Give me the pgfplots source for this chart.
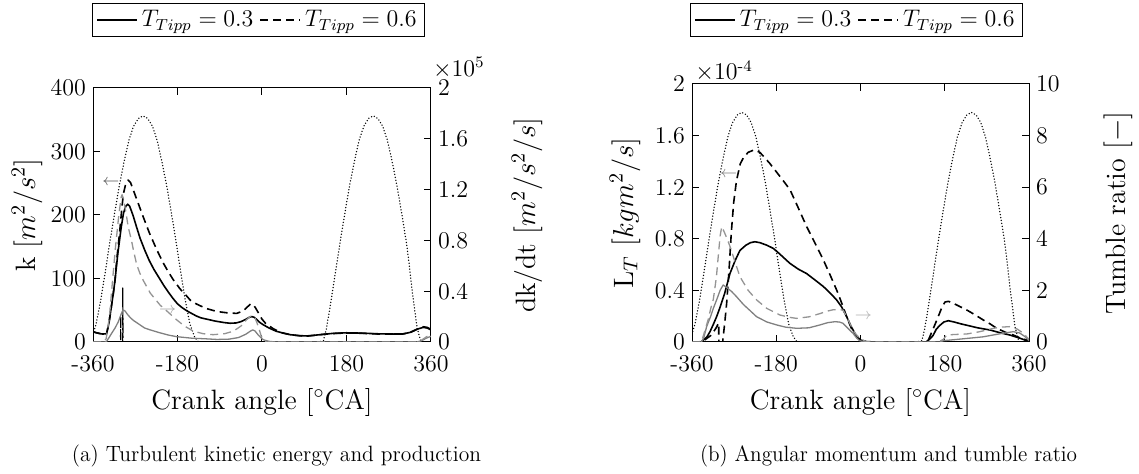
\documentclass[border=0pt]{standalone}
\usepackage{amsmath}
\usepackage{pgfplots}
\pgfplotsset{compat=1.18}
\definecolor{gsolid}{gray}{0.5}
\definecolor{gdash}{gray}{0.58}
\pgfplotsset{
 base/.style={scale only axis, xmin=-360, xmax=360, tick align=inside, major tick length=3.5pt,
   clip mode=individual,
   axis line style={line width=0.5pt}, every tick/.style={black, line width=0.5pt},
   tick label style={font=\fontsize{12}{14}\selectfont},
   label style={font=\fontsize{14}{16}\selectfont},
   xtick={-360,-180,0,180,360}, xticklabels={-360,-180,0,180,360},
   xticklabel style={yshift=-3pt},
   every axis plot/.append style={line join=round}},
 ksol/.style={black, line width=0.8pt},
 kdash/.style={black, line width=0.8pt, dash pattern=on 4pt off 2.5pt},
 gsol/.style={gsolid, line width=0.65pt},
 gdsh/.style={gdash, line width=0.65pt, dash pattern=on 4pt off 2.5pt},
 lift/.style={black, line width=0.75pt, line cap=round, dash pattern=on 0pt off 1.5pt},
 myleg/.style={legend columns=2, legend cell align=left,
   legend style={draw=black, line width=0.5pt, font=\fontsize{12}{14}\selectfont, inner xsep=2pt, inner ysep=1.5pt,
     /tikz/every even column/.append style={column sep=1pt}},
   legend image code/.code={\draw[##1] (0pt,0pt) -- (20pt,0pt);}},
}
\begin{document}
\begin{tikzpicture}
\useasboundingbox (0,0) rectangle (569.5pt,237pt);
% ---------------- (a) left axis ----------------
\begin{axis}[base, at={(46.5pt,66pt)}, anchor=south west, width=169pt, height=127pt,
  ymin=0, ymax=400, ytick={0,100,200,300,400}, xtick pos=both, ytick pos=left,
  ylabel={k $[m^2/s^2]$}, xlabel={Crank angle [$^\circ$CA]},
  ylabel style={at={(axis description cs:-0.195,0.5)}, anchor=center},
  xlabel style={at={(axis description cs:0.5,-0.264)}, anchor=base},
  myleg, legend style={at={(axis description cs:0.4896,1.335)}, anchor=north}]
\addlegendimage{black, line width=0.8pt}
\addlegendentry{$T_{Tipp}=0.3$}
\addlegendimage{black, line width=0.8pt, dash pattern=on 4pt off 2.5pt}
\addlegendentry{$T_{Tipp}=0.6$}
\addplot[lift] coordinates {(-360,12) (-353.5,28) (-343.5,66) (-333.5,112) (-323.5,160) (-313.5,205) (-303.5,248) (-293.5,285) (-283.5,318) (-273.5,340) (-263.5,352) (-253.5,356) (-243.5,352) (-233.5,340) (-223.5,318) (-213.5,285) (-203.5,248) (-193.5,205) (-183.5,160) (-173.5,112) (-163.5,66) (-153.5,28) (-143.5,8) (-135.5,0) (120,0) (131,2) (137,20) (147,64) (157,112) (167,160) (177,205) (187,248) (197,285) (207,318) (217,340) (227,352) (237,356) (247,352) (257,340) (267,318) (277,285) (287,248) (297,205) (307,160) (312,132) (320,80) (330,24) (337,4) (340,0) (360,0)};
\addplot[ksol] coordinates {(-360,16) (-350,14) (-340,12.5) (-331,13) (-326,30) (-322,50) (-317,75) (-313,98) (-307,140) (-300,180) (-295,203) (-290,214) (-286,217) (-282,214) (-275,200) (-268,183) (-260,164) (-250,145) (-240,128) (-230,114) (-220,102) (-210,90) (-200,79) (-190,69) (-180,60) (-170,54) (-160,49) (-150,45) (-140,41) (-130,38) (-118,36) (-100,33) (-80,30.5) (-68,29.5) (-55,30) (-45,32) (-35,35.5) (-28,38.5) (-22,40) (-17,39) (-12,36) (-5,31) (3,27) (15,22) (30,17) (45,14) (60,11.5) (80,10) (95,9.5) (110,10.5) (130,12) (150,13.5) (180,14.5) (210,14) (250,12.8) (280,12.5) (300,12.8) (315,15) (330,20) (343,23) (352,22) (360,19)};
\addplot[kdash] coordinates {(-360,16) (-350,14) (-340,12.5) (-331,13) (-326,30) (-322,50) (-317,75) (-313,98) (-309.5,129) (-303,175) (-298,215) (-295,234) (-290,250) (-285,255) (-280,251) (-272,235) (-262,215) (-253,197) (-240,172) (-224,145) (-210,124) (-200,111) (-189,98) (-175,84) (-160,72) (-153,66) (-140,60) (-120,53) (-96,48) (-75,46) (-54,45) (-40,49) (-30,56) (-24,60) (-19,59) (-14,54) (-7,45) (0,36) (8,29) (24,21) (40,15) (60,11.5) (80,9.8) (95,9.2) (110,10.3) (130,12) (150,13.3) (180,14.2) (210,13.8) (250,12.5) (280,12.3) (300,12.6) (315,14.5) (330,20) (343,24) (352,23) (360,20)};
\addplot[black, line width=0.6pt, dash pattern=on 4pt off 2pt] coordinates {(-301.5,-30) (-301,40) (-300.5,-30)};
\addplot[black, line width=0.6pt, dash pattern=on 5pt off 1.5pt on 1pt off 1.5pt] coordinates {(-297,-30) (-296.5,85) (-296,-30)};
\node[text=black!65, font=\fontsize{8}{8}\selectfont] at (axis cs:-322,251) {$\leftarrow$};
\node[text=black!35, font=\fontsize{8}{8}\selectfont] at (axis cs:-201,50) {$\rightarrow$};
\end{axis}
% ---------------- (a) right axis ----------------
\begin{axis}[base, at={(46.5pt,66pt)}, anchor=south west, width=169pt, height=127pt,
  ymin=0, ymax=2, ytick={0,0.4,0.8,1.2,1.6,2}, yticklabels={0,0.4,0.8,1.2,1.6,2},
  axis y line*=right, axis x line=none,
  ylabel={dk/dt $[m^2/s^2/s]$},
  ylabel style={at={(axis description cs:1.284,0.5)}, anchor=center}]
\addplot[gsol] coordinates {(-360,0) (-335,0) (-331,0.005) (-325,0.04) (-320,0.07) (-313,0.11) (-306,0.16) (-300,0.22) (-296,0.2525) (-292,0.245) (-286,0.215) (-280,0.19) (-274,0.17) (-260,0.135) (-250,0.11) (-238,0.095) (-220,0.075) (-200,0.055) (-182,0.042) (-150,0.03) (-120,0.025) (-96,0.02) (-70,0.0225) (-50,0.035) (-35,0.06) (-25,0.085) (-20,0.095) (-15,0.0875) (-8,0.055) (0,0.025) (5,0.015) (15,0.005) (30,0) (330,0) (340,0.01) (350,0.03) (360,0.045)};
\addplot[gdsh] coordinates {(-360,0) (-338,0) (-332,0.025) (-325,0.2) (-318,0.5) (-312,0.75) (-305,1.0) (-300,1.14) (-298,1.16) (-295,1.125) (-290,1.025) (-285,0.905) (-278,0.8) (-274,0.725) (-267,0.61) (-260,0.54) (-253,0.485) (-238,0.385) (-217,0.29) (-203,0.245) (-182,0.175) (-165,0.125) (-146,0.085) (-125,0.065) (-104,0.0575) (-80,0.065) (-61,0.085) (-45,0.125) (-33,0.175) (-25,0.2) (-20,0.21) (-15,0.19) (-8,0.125) (-2,0.05) (3,0.015) (10,0) (330,0) (340,0.015) (350,0.04) (360,0.06)};
\node[anchor=base west, font=\fontsize{12}{14}\selectfont, inner sep=0pt] at (axis description cs:1.005,1.045) {$\times 10^5$};
\end{axis}
% ---------------- (b) left axis ----------------
\begin{axis}[base, at={(346pt,66pt)}, anchor=south west, width=168.5pt, height=129pt,
  ymin=0, ymax=2, ytick={0,0.4,0.8,1.2,1.6,2}, yticklabels={0,0.4,0.8,1.2,1.6,2}, xtick pos=both, ytick pos=left,
  ylabel={L$_T$ $[kgm^2/s]$}, xlabel={Crank angle [$^\circ$CA]},
  ylabel style={at={(axis description cs:-0.199,0.5)}, anchor=center},
  xlabel style={at={(axis description cs:0.5,-0.26)}, anchor=base},
  myleg, legend style={at={(axis description cs:0.488,1.314)}, anchor=north}]
\addlegendimage{black, line width=0.8pt}
\addlegendentry{$T_{Tipp}=0.3$}
\addlegendimage{black, line width=0.8pt, dash pattern=on 4pt off 2.5pt}
\addlegendentry{$T_{Tipp}=0.6$}
\addplot[lift] coordinates {(-360,0.06) (-353.5,0.14) (-343.5,0.33) (-333.5,0.56) (-323.5,0.80) (-313.5,1.024) (-303.5,1.24) (-293.5,1.424) (-283.5,1.59) (-273.5,1.70) (-263.5,1.76) (-253.5,1.78) (-243.5,1.76) (-233.5,1.70) (-223.5,1.59) (-213.5,1.424) (-203.5,1.24) (-193.5,1.024) (-183.5,0.80) (-173.5,0.56) (-163.5,0.33) (-153.5,0.14) (-143.5,0.04) (-135.5,0) (120,0) (131,0.01) (137,0.10) (147,0.32) (157,0.56) (167,0.80) (177,1.024) (187,1.24) (197,1.424) (207,1.59) (217,1.70) (227,1.76) (237,1.78) (247,1.76) (257,1.70) (267,1.59) (277,1.424) (287,1.24) (297,1.024) (307,0.80) (312,0.66) (320,0.40) (330,0.12) (337,0.02) (340,0) (360,0)};
\addplot[ksol] coordinates {(-360,0) (-340,0) (-336,0.015) (-328,0.04) (-321.6,0.08) (-314,0.14) (-307,0.2) (-300,0.27) (-290,0.38) (-279,0.53) (-268,0.63) (-257.6,0.71) (-245,0.75) (-235,0.77) (-225.6,0.777) (-215,0.77) (-200,0.75) (-186.6,0.726) (-175,0.69) (-163,0.65) (-151,0.61) (-133,0.565) (-115,0.53) (-97,0.48) (-79.4,0.43) (-65,0.38) (-51,0.326) (-40,0.27) (-29.6,0.196) (-20,0.12) (-8,0.04) (0,0.015) (13,0.003) (30,0) (140,0) (147,0.02) (155,0.05) (162,0.10) (170,0.13) (178,0.155) (187.7,0.165) (200,0.155) (215,0.14) (227,0.13) (250,0.11) (276.6,0.093) (300,0.07) (319,0.054) (340,0.03) (355,0.01) (360,0.005)};
\addplot[kdash] coordinates {(-360,0) (-345,0) (-335,0.01) (-320,0.05) (-310,0.10) (-303,0.147) (-301.5,-0.5) (-295,-0.5) (-294,0.02) (-290,0.15) (-286,0.30) (-281,0.55) (-276,0.85) (-271,1.08) (-265,1.25) (-257,1.38) (-250,1.43) (-240,1.47) (-227,1.49) (-215,1.47) (-205,1.43) (-194,1.385) (-180,1.32) (-165,1.25) (-150.6,1.18) (-133,1.04) (-115,0.894) (-97,0.765) (-79.4,0.636) (-65,0.52) (-51,0.403) (-40,0.30) (-29.6,0.196) (-20,0.11) (-8,0.04) (3,0.01) (13,0) (140,0) (145,0.015) (155,0.1) (166,0.196) (174,0.27) (180.6,0.31) (188,0.315) (198.4,0.30) (212,0.275) (227,0.248) (245,0.21) (262.5,0.17) (277,0.14) (291,0.106) (310,0.075) (326.5,0.054) (342,0.03) (355,0.015) (360,0.01)};
\node[text=black!50, font=\fontsize{8}{8}\selectfont] at (axis cs:-282,1.30) {$\leftarrow$};
\node[text=black!30, font=\fontsize{8}{8}\selectfont] at (axis cs:6,0.2) {$\rightarrow$};
\node[anchor=base west, font=\fontsize{12}{14}\selectfont, inner sep=0pt] at (axis description cs:0.009,1.016) {$\times 10^{\text{-}4}$};
\end{axis}
% ---------------- (b) right axis ----------------
\begin{axis}[base, at={(346pt,66pt)}, anchor=south west, width=168.5pt, height=129pt,
  ymin=0, ymax=10, ytick={0,2,4,6,8,10},
  axis y line*=right, axis x line=none,
  ylabel={Tumble ratio $[-]$},
  ylabel style={at={(axis description cs:1.264,0.5)}, anchor=center}]
\addplot[gsol] coordinates {(-360,0) (-340,0) (-335,0.15) (-328.7,0.6) (-320,1.0) (-314.5,1.3) (-306,1.7) (-300,2.0) (-293.4,2.21) (-285,2.1) (-275,1.95) (-264.8,1.755) (-250,1.45) (-235,1.2) (-222,0.98) (-200,0.775) (-179,0.66) (-160,0.575) (-136.5,0.53) (-110,0.55) (-86.8,0.66) (-70,0.75) (-55,0.785) (-45,0.775) (-37.5,0.725) (-28,0.55) (-16,0.335) (-8,0.15) (-2,0.05) (10,0) (170,0) (177,0.05) (220,0.125) (262,0.2) (300,0.325) (326.5,0.4) (340,0.35) (352,0.2) (360,0.05)};
\addplot[gdsh] coordinates {(-360,0) (-340,0) (-332,0.465) (-325,0.9) (-320,1.3) (-314.5,1.65) (-308,2.5) (-303,3.5) (-300,4.1) (-296.5,4.47) (-292,4.3) (-285,4.0) (-278.8,3.7) (-268,3.1) (-257.6,2.53) (-240,2.0) (-222,1.63) (-200,1.3) (-172,1.045) (-150,0.95) (-136.5,0.915) (-110,0.975) (-86.8,1.1) (-70,1.2) (-58.5,1.25) (-45,1.25) (-37.5,1.24) (-30,1.0) (-23,0.725) (-12,0.35) (-2,0.15) (10,0.025) (20,0) (165,0) (177,0.1) (184,0.27) (200,0.29) (227,0.31) (255,0.4) (284,0.53) (300,0.575) (319,0.595) (335,0.5) (348,0.335) (360,0.1)};
\end{axis}
% ---------------- captions ----------------
\node[anchor=base, inner sep=0pt] at (138.25pt,6pt) {\resizebox{204.5pt}{8.3pt}{\fontsize{13}{15}\selectfont (a)\ Turbulent kinetic energy and production}};
\node[anchor=base, inner sep=0pt] at (444.25pt,6pt) {\resizebox{188.5pt}{8.3pt}{\fontsize{13}{15}\selectfont (b)\ Angular momentum and tumble ratio}};
\end{tikzpicture}
\end{document}
